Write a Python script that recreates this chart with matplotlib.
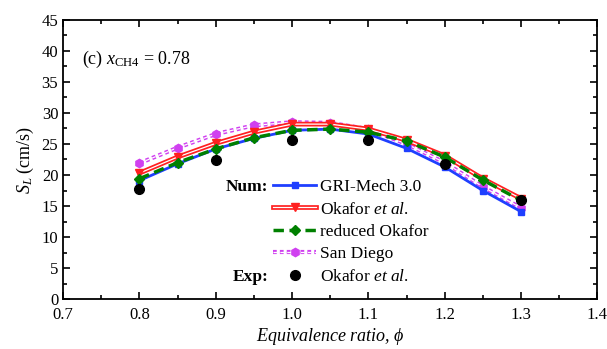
import numpy as np
import matplotlib
matplotlib.use("Agg")
import matplotlib.pyplot as plt
import matplotlib.patheffects as pe
from matplotlib.ticker import MultipleLocator
from matplotlib.legend_handler import HandlerTuple

plt.rcParams["font.family"] = ["Liberation Serif", "DejaVu Serif"]
plt.rcParams["mathtext.fontset"] = "custom"
plt.rcParams["mathtext.rm"] = "Liberation Serif"
plt.rcParams["mathtext.it"] = "Liberation Serif:italic"

# equivalence ratio
phi = [0.80, 0.85, 0.90, 0.95, 1.00, 1.05, 1.10, 1.15, 1.20, 1.25, 1.30]

# numerical laminar flame speeds (cm/s)
gri_mech = [19.1, 21.8, 24.2, 25.9, 27.2, 27.4, 26.6, 24.3, 21.3, 17.5, 14.1]
okafor = [20.3, 22.9, 25.1, 26.9, 28.2, 28.2, 27.4, 25.6, 23.1, 19.4, 16.2]
reduced_okafor = [19.4, 22.0, 24.2, 26.0, 27.2, 27.4, 26.9, 25.5, 22.9, 19.2, 15.9]
san_diego = [21.9, 24.4, 26.6, 28.0, 28.5, 28.4, 27.4, 25.0, 22.0, 18.1, 14.7]

# experiment
phi_exp = [0.8, 0.9, 1.0, 1.1, 1.2, 1.3]
exp_okafor = [17.8, 22.4, 25.6, 25.6, 21.8, 16.0]

BLUE = "#1f3fff"
RED = "#ff2020"
GREEN = "#008000"
MAGENTA = "#d040f0"

fig = plt.figure(figsize=(6.07, 3.49), dpi=100)
ax = fig.add_axes([0.104, 0.143, 0.880, 0.800])

h_gri, = ax.plot(phi, gri_mech, color=BLUE, lw=2.0, marker="s", ms=5, zorder=3)

# hollow red line
h_ok_line, = ax.plot(phi, okafor, color="white", lw=0.9, zorder=4,
                     path_effects=[pe.Stroke(linewidth=3.4, foreground=RED), pe.Normal()])
h_ok_mk, = ax.plot(phi, okafor, ls="none", color=RED, marker="v", ms=5.5, zorder=4)

h_red, = ax.plot(phi, reduced_okafor, color=GREEN, lw=2.5, ls=(0, (3, 1.6)),
                 marker="D", ms=5, zorder=5)

# hollow dashed magenta line
h_sd_line, = ax.plot(phi, san_diego, color="white", lw=0.9, ls=(0, (3, 2.5)), zorder=2,
                     path_effects=[pe.Stroke(linewidth=3.0, foreground=MAGENTA), pe.Normal()])
h_sd_mk, = ax.plot(phi, san_diego, ls="none", color=MAGENTA, marker="h", ms=6, zorder=2)

h_exp, = ax.plot(phi_exp, exp_okafor, ls="none", color="black", marker="o", ms=7, zorder=6)

ax.set_xlim(0.7, 1.4)
ax.set_ylim(0, 45)
ax.xaxis.set_major_locator(MultipleLocator(0.1))
ax.xaxis.set_minor_locator(MultipleLocator(0.05))
ax.yaxis.set_major_locator(MultipleLocator(5))
ax.yaxis.set_minor_locator(MultipleLocator(2.5))
ax.tick_params(which="both", direction="in", top=True, right=True, labelsize=12, width=1.2)
ax.tick_params(which="major", length=5)
ax.tick_params(which="minor", length=3)
ax.tick_params(axis="x", pad=6)
for s in ax.spines.values():
    s.set_linewidth(1.3)

ax.set_xlabel(r"Equivalence ratio, $\phi$", fontsize=13, style="italic", labelpad=2)
ax.set_ylabel(r"$S_L$ (cm/s)", fontsize=13, labelpad=4)

ax.text(0.036, 0.86, r"(c) $x_{\mathrm{CH4}}$ = 0.78", transform=ax.transAxes,
        fontsize=13, ha="left", va="center")

leg = ax.legend(
    [h_gri, (h_ok_line, h_ok_mk), h_red, (h_sd_line, h_sd_mk), h_exp],
    ["GRI-Mech 3.0", r"Okafor $\it{et\ al.}$", "reduced Okafor", "San Diego", r"Okafor $\it{et\ al.}$"],
    handler_map={tuple: HandlerTuple(ndivide=1, pad=0)},
    loc="upper left", bbox_to_anchor=(273 / 607, 1 - 179 / 349), bbox_transform=fig.transFigure,
    frameon=False, fontsize=12.5, handlelength=2.5, handletextpad=0.2,
    labelspacing=0.36, borderpad=0, borderaxespad=0, numpoints=1,
)

fig.text(268 / 607, 1 - 187 / 349, "Num:", fontsize=12.5, fontweight="bold", ha="right", va="center")
fig.text(268 / 607, 1 - 277 / 349, "Exp:", fontsize=12.5, fontweight="bold", ha="right", va="center")

fig.savefig("out.png", dpi=100)
